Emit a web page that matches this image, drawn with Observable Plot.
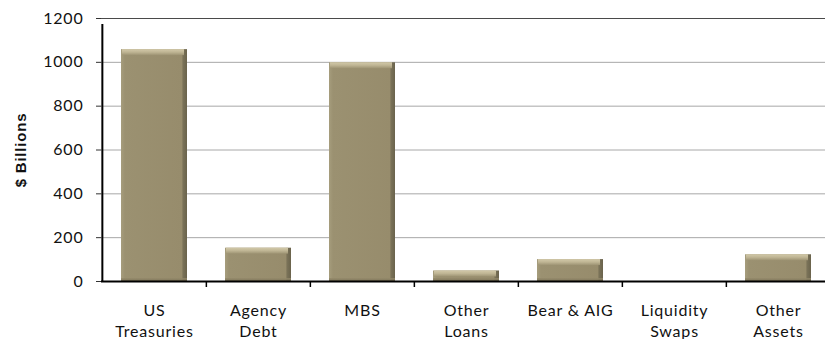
<!DOCTYPE html>
<html>
<head>
<meta charset="utf-8">
<script src="https://cdn.jsdelivr.net/npm/d3@7"></script>
<script src="https://cdn.jsdelivr.net/npm/@observablehq/plot@0.6"></script>
<style>
  html, body { margin: 0; padding: 0; background: #fff; overflow: hidden; }
  #chart svg { display: block; overflow: visible; }
  #chart svg text { letter-spacing: 0.8px; }
</style>
</head>
<body>
<div id="chart"></div>
<script>
// Federal Reserve balance sheet assets, $ billions
const categories = ["US Treasuries", "Agency Debt", "MBS", "Other Loans", "Bear & AIG", "Liquidity Swaps", "Other Assets"];
const tickLabels = ["US\nTreasuries", "Agency\nDebt", "MBS", "Other\nLoans", "Bear & AIG", "Liquidity\nSwaps", "Other\nAssets"];
const holdings = [1058, 152, 998, 48, 100, 0, 122];
const yTicks = [0, 200, 400, 600, 800, 1000, 1200];

const data = categories.map((name, i) => ({name, label: tickLabels[i], value: holdings[i]}));
const stacked = data.filter(d => d.value > 0);

const W = 825, H = 339;
const xRange = [101, 831];
const step = (xRange[1] - xRange[0]) / categories.length;
const FONT = "Lato, 'Open Sans', sans-serif";

// gradient definitions giving the bars a bevelled look
const defs = () => {
  const g = document.createElementNS("http://www.w3.org/2000/svg", "defs");
  g.innerHTML = `
    <linearGradient id="barBody" x1="0" x2="1" y1="0" y2="0">
      <stop offset="0" stop-color="#a69d7d"/>
      <stop offset="0.06" stop-color="#9b9171"/>
      <stop offset="0.92" stop-color="#978c6c"/>
      <stop offset="0.94" stop-color="#7a7258"/>
      <stop offset="1" stop-color="#6a634c"/>
    </linearGradient>
    <linearGradient id="barTop" x1="0" x2="0" y1="0" y2="1">
      <stop offset="0" stop-color="#d2c9a9"/>
      <stop offset="0.5" stop-color="#bfb594"/>
      <stop offset="1" stop-color="#9e9474"/>
    </linearGradient>
    <linearGradient id="barBase" x1="0" x2="0" y1="0" y2="1">
      <stop offset="0" stop-color="#958a6b"/>
      <stop offset="1" stop-color="#7a7257"/>
    </linearGradient>`;
  return g;
};

const chart = Plot.plot({
  width: W,
  height: H,
  marginLeft: 101,
  marginRight: 0,
  marginTop: 18,
  marginBottom: 58,
  style: {fontFamily: FONT, background: "#fff"},
  x: {domain: categories, range: xRange, paddingInner: 0.37, paddingOuter: 0.185, axis: null},
  y: {domain: [0, 1200], axis: null},
  marks: [
    defs,
    // horizontal gridlines
    Plot.ruleY(yTicks.filter(v => v > 0 && v < 1200), {y: d => d, stroke: "#a8a8a8", strokeWidth: 1}),
    Plot.ruleY([1200], {y: d => d, stroke: "#4a4a4a", strokeWidth: 1}),
    // bars
    Plot.barY(data, {x: "name", y: "value", fill: "url(#barBody)"}),
    Plot.barY(stacked, {x: "name", y1: "value", y2: "value", insetBottom: -6, insetLeft: 1, insetRight: 3, fill: "url(#barTop)"}),
    Plot.barY(stacked, {x: "name", y1: 0, y2: 0, insetTop: -3, fill: "url(#barBase)", fillOpacity: 0.8}),
    // y axis
    Plot.axisY({ticks: yTicks, tickFormat: d => String(d), tickSize: 5, tickPadding: 13, fontSize: 16, stroke: "#333", label: null, fill: "#111"}),
    Plot.ruleX([categories[0]], {x: d => d, y1: 0, y2: 1200, dx: -step / 2, insetBottom: -6, stroke: "#000", strokeWidth: 2}),
    // x axis line and category boundary ticks
    Plot.ruleY([0], {y: d => d, stroke: "#000", strokeWidth: 2}),
    Plot.ruleX(categories.slice(1), {x: d => d, y1: 0, y2: 0, dx: -step / 2, insetBottom: -6, stroke: "#000", strokeWidth: 1.5}),
    // category labels
    Plot.text(data, {x: "name", text: "label", frameAnchor: "bottom", lineAnchor: "top", dy: 20, fontSize: 16, lineHeight: 1.3, fill: "#111", textAnchor: "middle"}),
    // y axis title
    Plot.text(["$ Billions"], {text: d => d, frameAnchor: "left", dx: -80, rotate: -90, textAnchor: "middle", lineAnchor: "middle", fontSize: 15, fontWeight: "bold", fill: "#111", fontFamily: "'Liberation Sans', Arial, sans-serif"})
  ]
});

document.getElementById("chart").appendChild(chart);
</script>
</body>
</html>
